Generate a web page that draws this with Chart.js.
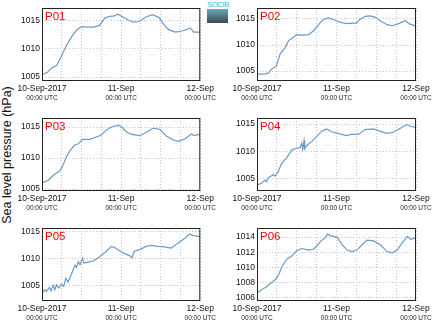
<!DOCTYPE html>
<html>
<head>
<meta charset="utf-8">
<script src="https://cdn.jsdelivr.net/npm/chart.js@4"></script>
<style>
  body { margin: 0; width: 434px; height: 327px; background: #fff; position: relative; overflow: hidden; font-family: "Liberation Sans", Arial, sans-serif; }
  canvas { position: absolute; }
  #ytitle { position: absolute; left: 7px; top: 155px; transform: translate(-50%, -50%) rotate(-90deg); font-size: 12.5px; white-space: nowrap; color: #111; }
  #logo { position: absolute; left: 207px; top: 1px; width: 21px; text-align: center; }
  #logo span { display: block; font-size: 8px; line-height: 7px; color: #3cbcdc; letter-spacing: -0.6px; }
  #logo div { margin-top: 1px; height: 14px; background: linear-gradient(#6aa8b8, #3a4a55); }
</style>
</head>
<body>
<div id="ytitle">Sea level pressure (hPa)</div>
<div id="logo"><span>SOCIB</span><div></div></div>
<canvas id="p01" width="205" height="110" style="left:12px;top:0px"></canvas>
<canvas id="p02" width="207" height="110" style="left:227px;top:0px"></canvas>
<canvas id="p03" width="205" height="110" style="left:12px;top:110px"></canvas>
<canvas id="p04" width="207" height="110" style="left:227px;top:110px"></canvas>
<canvas id="p05" width="205" height="107" style="left:12px;top:220px"></canvas>
<canvas id="p06" width="207" height="107" style="left:227px;top:220px"></canvas>
<script>
// hours since 10-Sep-2017 00:00 UTC
const majorHours = [0, 24, 48];
const majorLabels = ["10-Sep-2017", "11-Sep", "12-Sep"];
const subLabel = "00:00 UTC";

const p01Hours = [0,1.5,3,4.5,6,7.5,9,10.5,12,13.5,15.5,17.5,19,20.5,22,23,24.5,26,27.5,29.5,31.5,33.5,35.5,37,38.5,40.5,42.5,45,46,48];
const p01Values = [1005.4,1005.8,1006.6,1007.1,1008.9,1010.7,1012.2,1013.4,1014.0,1013.9,1013.9,1014.2,1015.5,1015.8,1015.9,1016.2,1015.7,1015.2,1014.8,1014.9,1015.7,1016.1,1015.6,1014.3,1013.4,1013.0,1013.2,1013.7,1013.0,1013.0];

const p02Hours = [0,2,3.4,4.4,5.8,7,8.5,9.5,11,12,13.5,15.6,17,18.6,20,21.6,23,25,27,29,30,31,32.7,34.2,35.8,37.3,39.3,40.8,42.8,44.8,45.8,48];
const p02Values = [1004.4,1004.4,1004.6,1005.4,1005.9,1008.3,1009.5,1010.8,1011.5,1012.0,1011.9,1012.0,1012.7,1013.9,1014.9,1015.2,1014.9,1014.4,1014.1,1014.2,1014.2,1014.9,1015.5,1015.6,1015.3,1014.6,1013.9,1013.7,1014.1,1014.7,1014.1,1013.6];

const p03Hours = [0,1.8,3.4,4.4,5.4,6.4,7.4,8.6,9.9,11,12.3,14.5,16.5,18,19.4,21,23.1,24.2,25.6,27.2,29.7,31.8,33.8,35.8,37.8,39.8,41.4,43.4,45.4,46,48];
const p03Values = [1006.0,1006.4,1007.2,1007.6,1007.9,1008.9,1010.2,1011.3,1012.1,1012.3,1013.0,1013.0,1013.4,1013.7,1014.5,1015.0,1015.3,1015.0,1014.2,1013.8,1013.6,1014.2,1014.8,1014.6,1013.5,1012.9,1012.7,1013.1,1013.9,1013.6,1013.8];

const p04Hours = [0,1.4,2.4,2.9,3.4,4.4,4.9,5.4,6.4,7.4,8.9,10.5,12,13,13.5,13.8,14.2,14.4,15,16.5,18,19.5,21,22.5,24.5,27,28.5,30.6,32.6,35.1,37.1,39.1,41.1,43.2,45.2,46.2,48];
const p04Values = [1003.9,1004.2,1004.8,1004.5,1005.2,1005.6,1005.8,1005.5,1006.3,1007.8,1008.8,1010.3,1010.6,1010.7,1011.5,1010.4,1012.0,1010.5,1011.1,1011.8,1012.7,1013.7,1014.1,1013.6,1013.3,1012.9,1013.1,1013.1,1014.0,1014.1,1013.7,1013.3,1013.5,1014.2,1014.9,1014.6,1014.4];

const p05Hours = [0,0.9,1.4,2.2,2.7,3.4,3.9,4.4,5.1,5.9,6.6,7.2,7.9,9,10,10.5,11,11.5,12.3,12.7,14,15.5,17.5,19.5,21,22,23.5,25,26.5,27.3,28,29.6,31.6,33.1,35.1,37.1,39.2,41.2,43.3,44.8,45.8,48];
const p05Values = [1003.6,1004.3,1004.0,1004.7,1004.1,1005.1,1004.3,1005.2,1004.6,1005.3,1004.9,1006.4,1005.7,1007.3,1008.8,1008.4,1009.5,1008.9,1010.1,1009.2,1009.4,1009.6,1010.4,1011.4,1012.3,1012.1,1011.5,1011.0,1010.6,1010.2,1011.4,1011.7,1012.3,1012.5,1012.3,1012.2,1012.0,1012.9,1013.8,1014.6,1014.3,1014.1];

const p06Hours = [0,1.4,2.7,4,5.5,6.5,7.5,9,10.5,12,13.5,15.6,17,18,19.3,20.6,21.3,22.1,24.2,25.7,27.2,28.7,30.2,31.7,33.2,35.2,37.2,39.3,40.8,42.3,43.8,45.4,46.4,48];
const p06Values = [1006.6,1007.1,1007.4,1007.9,1008.4,1009.0,1010.1,1011.1,1011.5,1012.2,1012.5,1012.3,1012.4,1012.8,1013.5,1013.9,1014.4,1014.2,1014.0,1013.0,1012.3,1012.1,1012.3,1013.0,1013.6,1013.5,1013.0,1012.1,1011.9,1012.3,1013.2,1014.1,1013.7,1013.9];

const lineColor = "#6b9bc8";
const fontName = "'Liberation Sans', Arial, sans-serif";

// frame, "00:00 UTC" second line and station label
const framePlugin = {
  id: "frame",
  afterDraw(chart, args, opts) {
    const ctx = chart.ctx;
    const a = chart.chartArea;
    const x = chart.scales.x;
    ctx.save();
    ctx.strokeStyle = "#222";
    ctx.lineWidth = 1;
    ctx.strokeRect(a.left + 0.5, a.top + 0.5, a.right - a.left - 1, a.bottom - a.top - 1);
    ctx.fillStyle = "#222";
    ctx.font = "6.5px " + fontName;
    ctx.textAlign = "center";
    ctx.textBaseline = "middle";
    majorHours.forEach(h => ctx.fillText(subLabel, x.getPixelForValue(h), a.bottom + 17));
    ctx.fillStyle = "#f00";
    ctx.font = "11.5px " + fontName;
    ctx.textAlign = "left";
    ctx.textBaseline = "alphabetic";
    ctx.fillText(opts.label, a.left + 3, a.top + 12);
    ctx.restore();
  }
};

function makePanel(id, label, hours, values, yMin, yMax, yStep, padRight, xHeight) {
  const pts = hours.map((h, i) => ({ x: h, y: values[i] }));
  return new Chart(document.getElementById(id), {
    type: "line",
    data: {
      datasets: [{
        data: pts,
        borderColor: lineColor,
        borderWidth: 1.2,
        pointRadius: 0,
        tension: 0,
        fill: false,
      }],
    },
    plugins: [framePlugin],
    options: {
      responsive: false,
      animation: false,
      layout: { padding: { top: 8, right: padRight, left: 0, bottom: 0 } },
      plugins: {
        legend: { display: false },
        tooltip: { enabled: false },
        frame: { label: label },
      },
      scales: {
        x: {
          type: "linear",
          min: 0,
          max: 48,
          afterFit: (s) => { s.height = xHeight; },
          ticks: {
            stepSize: 6,
            autoSkip: false,
            maxRotation: 0,
            padding: 3,
            color: "#111",
            font: { family: fontName, size: 8.5 },
            callback: (v) => {
              const k = majorHours.indexOf(v);
              return k >= 0 ? majorLabels[k] : "";
            },
          },
          grid: { color: "#c4c4c4", lineWidth: 1, drawTicks: false },
          border: { display: false, dash: [1, 2] },
        },
        y: {
          min: yMin,
          max: yMax,
          afterFit: (s) => { s.width = 30; },
          // only round multiples of the step inside the range
          afterBuildTicks: (s) => {
            const t = [];
            for (let v = Math.ceil(s.min / yStep) * yStep; v <= s.max; v += yStep) t.push({ value: v });
            s.ticks = t;
          },
          ticks: {
            padding: 2,
            color: "#111",
            font: { family: fontName, size: 8.5 },
            callback: (v) => String(v),
          },
          grid: { color: "#c4c4c4", lineWidth: 1, drawTicks: false },
          border: { display: false, dash: [1, 2] },
        },
      },
    },
  });
}

makePanel("p01", "P01", p01Hours, p01Values, 1004.3, 1017.3, 5, 16, 29);
makePanel("p02", "P02", p02Hours, p02Values, 1003.1, 1017.1, 5, 18, 29);
makePanel("p03", "P03", p03Hours, p03Values, 1004.7, 1016.45, 5, 16, 29);
makePanel("p04", "P04", p04Hours, p04Values, 1002.8, 1016.1, 5, 18, 29);
makePanel("p05", "P05", p05Hours, p05Values, 1002.2, 1015.7, 5, 16, 26);
makePanel("p06", "P06", p06Hours, p06Values, 1005.6, 1015.2, 2, 18, 26);
</script>
</body>
</html>
